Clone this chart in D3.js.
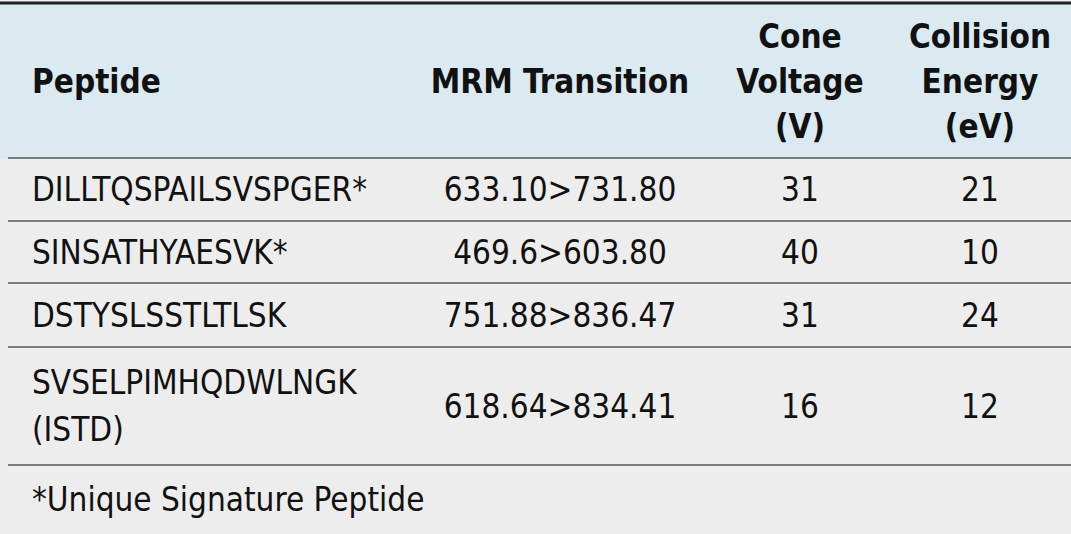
<!DOCTYPE html>
<html><head><meta charset="utf-8">
<script src="https://cdn.jsdelivr.net/npm/d3@7"></script>
<style>body{margin:0;background:#fff}</style>
</head><body>
<div id="chart"></div>
<script>
const columns = ["Peptide", "MRM Transition", "Cone Voltage (V)", "Collision Energy (eV)"];
const headerLines = [["Peptide"], ["MRM Transition"], ["Cone", "Voltage", "(V)"], ["Collision", "Energy", "(eV)"]];
const peptides = [["DILLTQSPAILSVSPGER*"], ["SINSATHYAESVK*"], ["DSTYSLSSTLTLSK"], ["SVSELPIMHQDWLNGK", "(ISTD)"]];
const transitions = ["633.10>731.80", "469.6>603.80", "751.88>836.47", "618.64>834.41"];
const coneVoltage = [31, 40, 31, 16];
const collisionEnergy = [21, 10, 24, 12];
const footnote = "*Unique Signature Peptide";

const width = 1071, height = 534;
const font = "'DejaVu Sans Condensed', 'DejaVu Sans', sans-serif";
const svg = d3.select("#chart").append("svg").attr("width", width).attr("height", height);

// row boundaries: header, 4 data rows, footnote
const rowEdges = [4, 158, 221, 283, 347, 465, 534];
const colX = [32, 560, 800, 980];
const colAnchor = ["start", "middle", "middle", "middle"];

svg.append("rect").attr("x", 0).attr("y", 0).attr("width", width).attr("height", height).attr("fill", "#ededed");
svg.append("rect").attr("x", 0).attr("y", rowEdges[0]).attr("width", width)
   .attr("height", rowEdges[1] - rowEdges[0]).attr("fill", "#dbe9f1");
svg.append("line").attr("x1", 0).attr("x2", width).attr("y1", 3).attr("y2", 3)
   .attr("stroke", "#222").attr("stroke-width", 3);
svg.selectAll("line.sep").data(rowEdges.slice(1, 6)).join("line").attr("class", "sep")
   .attr("x1", 8).attr("x2", width).attr("y1", d => d).attr("y2", d => d)
   .attr("stroke", "#555").attr("stroke-width", 1.5);

function cell(lines, x, anchor, yTop, yBot, bold) {
  const lh = bold ? 45 : 47, mid = (yTop + yBot) / 2;
  const t = svg.append("text").attr("x", x).attr("text-anchor", anchor)
    .style("font-family", font).style("font-size", "33px")
    .style("font-weight", bold ? "bold" : "normal").attr("fill", "#111");
  lines.forEach((l, i) => {
    t.append("tspan").attr("x", x)
     .attr("y", mid + (i - (lines.length - 1) / 2) * lh).attr("dy", "0.36em").text(l);
  });
}

headerLines.forEach((h, j) => cell(h, colX[j], colAnchor[j], rowEdges[0], rowEdges[1], true));
peptides.forEach((p, i) => {
  const vals = [p, [transitions[i]], [String(coneVoltage[i])], [String(collisionEnergy[i])]];
  vals.forEach((v, j) => cell(v, colX[j], colAnchor[j], rowEdges[i + 1], rowEdges[i + 2], false));
});
cell([footnote], colX[0], "start", rowEdges[5], rowEdges[6], false);
</script>
</body></html>
